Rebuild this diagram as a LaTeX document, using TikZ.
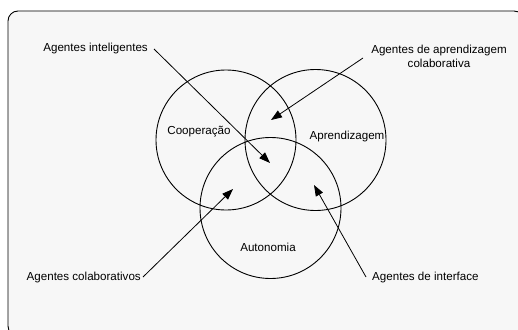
\documentclass[tikz,border=0pt]{standalone}
\usepackage{fontspec}
\setmainfont{Liberation Sans}
\usetikzlibrary{arrows.meta}
\begin{document}
\begin{tikzpicture}[x=1pt,y=-1pt,
  lbl/.style={font=\fontsize{11.6}{14}\selectfont, inner sep=0pt, align=center},
  ring/.style={draw=black, line width=0.9pt},
  pointer/.style={draw=black, line width=0.8pt, -{Triangle[length=11pt,width=8pt]}}]
\useasboundingbox (0,0) rectangle (518,329);
\begin{scope}
\clip (0,0) rectangle (518,329);
\draw[fill=white, draw=none] (0,0) rectangle (518,329);
\draw[fill={rgb,255:red,247;green,247;blue,247}, draw=black, line width=0.9pt, rounded corners=10pt] (8,11) rectangle (524,336);
\end{scope}
\node[ring, circle, minimum size=140pt, inner sep=0pt] (coop) at (226,140) {};
\node[ring, circle, minimum size=141pt, inner sep=0pt] (apr) at (315.5,140) {};
\node[ring, circle, minimum size=141pt, inner sep=0pt] (aut) at (270.5,208) {};
\node[lbl] (tcoop) at (199,132) {Cooperação};
\node[lbl] (tapr) at (347,136) {Aprendizagem};
\node[lbl] (taut) at (268,247) {Autonomia};
\node[lbl, anchor=east] (ai) at (148,49) {Agentes inteligentes};
\node[lbl] (aac) at (439,56) {Agentes de aprendizagem\\colaborativa};
\node[lbl, anchor=east] (ac) at (141,277) {Agentes colaborativos};
\node[lbl, anchor=west] (ad) at (372,277) {Agentes de interface};
\coordinate (tipai) at (270,163);
\coordinate (tipaac) at (271,120);
\coordinate (tipac) at (233,189);
\coordinate (tipad) at (314,185);
\draw[pointer] ([xshift=6pt]ai.east) -- (tipai);
\draw[pointer] (363,58) -- (tipaac);
\draw[pointer] ([xshift=2pt]ac.east) -- (tipac);
\draw[pointer] ([xshift=-6pt]ad.west) -- (tipad);
\end{tikzpicture}
\end{document}
